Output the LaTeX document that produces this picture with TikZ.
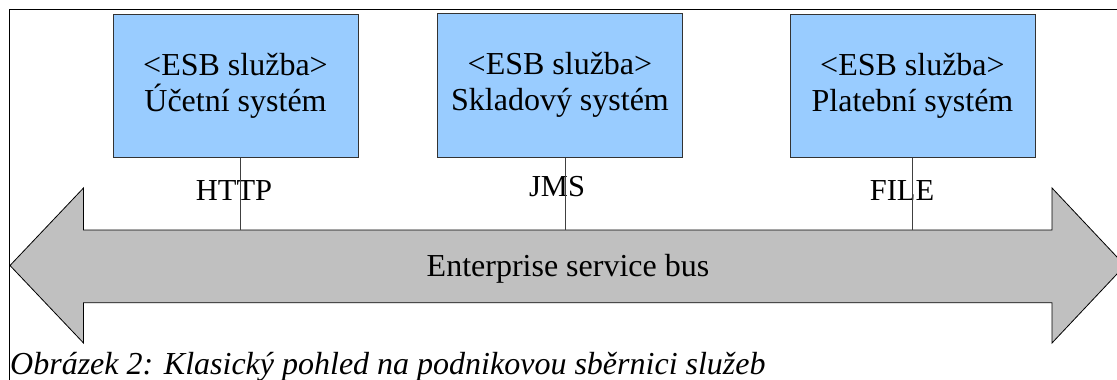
\documentclass[tikz,border=0pt]{standalone}
\usepackage{fontspec}
\setmainfont{Liberation Serif}
\definecolor{boxblue}{HTML}{99CCFF}
\definecolor{busgray}{HTML}{C0C0C0}
\definecolor{edgegray}{HTML}{333333}
\definecolor{linegray}{HTML}{404040}
\begin{document}
\begin{tikzpicture}[x=1pt,y=-1pt,
  svc/.style={draw=edgegray, line width=1pt, fill=boxblue, minimum width=245pt, minimum height=143.5pt,
    inner sep=0pt, align=center, font=\fontsize{32}{36}\selectfont},
  proto/.style={anchor=base, inner sep=0pt, font=\fontsize{30.5}{36}\selectfont},
  link/.style={draw=linegray, line width=1pt},
  bus/.style={draw=black, line width=0.8pt, fill=busgray}]
\useasboundingbox (0,0) rectangle (1117,380);
\clip (0,0) rectangle (1117,380);
% frame
\draw[line width=1pt] (1117,9.5) -- (9.5,9.5) -- (9.5,380);
% bus arrow
\draw[bus] (10,265.5) -- (83.5,188) -- (83.5,230) -- (1052,230) -- (1052,188) -- (1125,265.5)
  -- (1052,343) -- (1052,302.7) -- (83.5,302.7) -- (83.5,343) -- cycle;
\node[anchor=base, inner sep=0pt, font=\fontsize{32}{36}\selectfont] (busl) at (568,276.7) {Enterprise service bus};
% services
\node[svc] (s1) at (235.5,85.75) {<ESB služba>\\Účetní systém};
\node[svc] (s2) at (560,85.25) {<ESB služba>\\Skladový systém};
\node[svc] (s3) at (912.5,85.75) {<ESB služba>\\Platební systém};
% protocol labels
\node[proto] (p1) at (234,200.7) {HTTP};
\node[proto] (p2) at (557,196.5) {JMS};
\node[proto] (p3) at (902,200.7) {FILE};
% bus attach points
\coordinate (b1) at (240.7,230);
\coordinate (b2) at (565.7,230);
\coordinate (b3) at (912.7,230);
\draw[link] (s1.south -| b1) -- (b1);
\draw[link] (s2.south -| b2) -- (b2);
\draw[link] (s3.south -| b3) -- (b3);
% caption
\node[anchor=base west, inner sep=0pt, font=\fontsize{32}{36}\selectfont\itshape] (cap) at (10,374) {Obrázek 2: Klasický pohled na podnikovou sběrnici služeb};
\end{tikzpicture}
\end{document}
